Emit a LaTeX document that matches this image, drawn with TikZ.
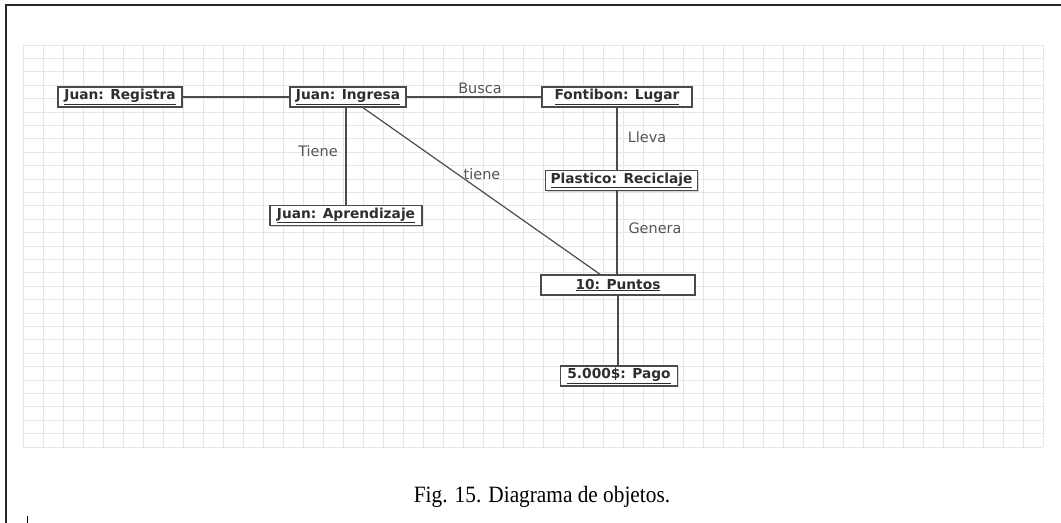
\documentclass[tikz,border=0pt]{standalone}
\usepackage{fontspec}
\setmainfont{Liberation Serif}
\newfontfamily\boxfont{DejaVu Sans}[BoldFont={DejaVu Sans Bold}]
\usetikzlibrary{shadows}
\definecolor{gridgray}{HTML}{E6E6E6}
\definecolor{edgegray}{HTML}{4A4A4A}
\definecolor{labelgray}{HTML}{555555}
\tikzset{
  objbox/.style={draw=edgegray, line width=1.4bp, fill=white, text=black!82,
    minimum height=20bp, inner xsep=5bp, inner ysep=2bp,
    font=\boxfont\bfseries\fontsize{13.8}{15}\selectfont,
    drop shadow={shadow xshift=1.2bp, shadow yshift=-1.4bp, fill=black!22, opacity=0.7}},
  link/.style={draw=black!70, line width=1.2bp},
  linklabel/.style={text=labelgray, font=\boxfont\fontsize{14.5}{16}\selectfont, inner sep=0pt},
  gridline/.style={draw=gridgray, line width=0.9bp},
  framerule/.style={draw=black!85, line width=1.8bp}
}
\begin{document}
\begin{tikzpicture}[x=1bp, y=-1bp]
  \useasboundingbox (0,0) rectangle (1061,523);
  \fill[white] (0,0) rectangle (1061,523);

  % background grid of the drawing canvas
  \foreach \gx in {23,43,...,1043} \draw[gridline] (\gx,45) -- (\gx,447);
  \foreach \k in {0,...,30} \draw[gridline] (23,45+13.4*\k) -- (1043,45+13.4*\k);

  % page frame
  \draw[framerule] (6,523) -- (6,5) -- (1061,5);
  \draw[black, line width=1bp] (27,516) -- (27,523);

  % objects
  \node[objbox, minimum width=124bp] (reg) at (120,97) {\underline{Juan: Registra}};
  \node[objbox, minimum width=116bp] (ing) at (348,97) {\underline{Juan: Ingresa}};
  \node[objbox, minimum width=150bp] (fon) at (617,97) {\underline{Fontibon: Lugar}};
  \node[objbox, minimum width=150bp] (pla) at (621.5,180.5) {\underline{Plastico: Reciclaje}};
  \node[objbox, minimum width=152bp] (apr) at (346,215.5) {\underline{Juan: Aprendizaje}};
  \node[objbox, minimum width=154bp] (pun) at (618,285) {\underline{10: Puntos}};
  \node[objbox, minimum width=117bp] (pag) at (619,376) {\underline{5.000\$: Pago}};

  % links between objects
  \draw[link] (reg.east) -- (ing.west);
  \draw[link] (ing.east) -- (fon.west);
  \draw[link] (apr.north |- ing.south) -- (apr.north);
  \draw[link] ([xshift=15bp]ing.south) -- ([xshift=-18bp]pun.north);
  \draw[link] (fon.south) -- (fon.south |- pla.north);
  \draw[link] (fon.south |- pla.south) -- (fon.south |- pun.north);
  \draw[link] (pun.south) -- (pun.south |- pag.north);

  % link labels
  \node[linklabel] (lbusca) at (480,88) {Busca};
  \node[linklabel] (ltiene) at (318,151) {Tiene};
  \node[linklabel] (ltiene2) at (482,174) {tiene};
  \node[linklabel] (llleva) at (647,137) {Lleva};
  \node[linklabel] (lgenera) at (655,228) {Genera};

  % caption
  \node[font=\fontsize{23.5}{26}\selectfont, anchor=base, inner sep=0pt] (cap) at (542,502)
    {\scalebox{0.91}[1]{Fig. 15. Diagrama de objetos.}};
\end{tikzpicture}
\end{document}
